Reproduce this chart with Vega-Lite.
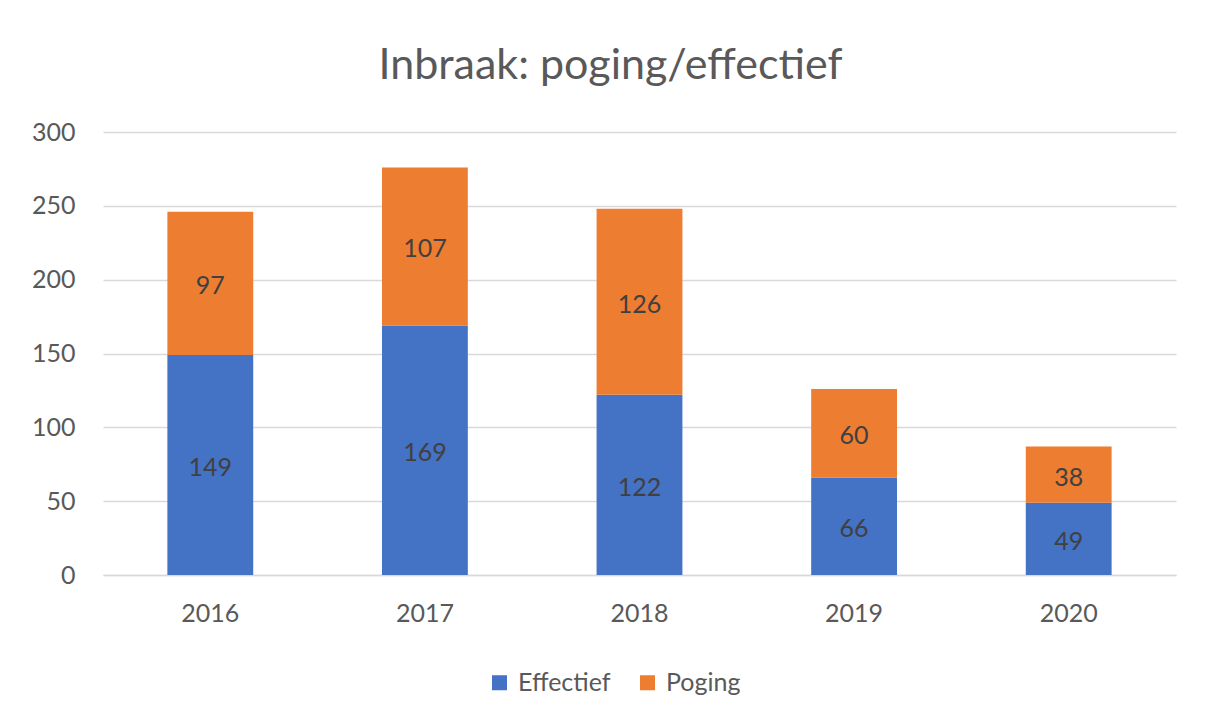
{
  "$schema": "https://vega.github.io/schema/vega-lite/v6.json",
  "width": 1073,
  "height": 443,
  "autosize": {"type": "none"},
  "padding": {"left": 103, "top": 132, "right": 32, "bottom": 149},
  "background": "white",
  "config": {"view": {"stroke": null}},
  "title": {
    "text": "Inbraak: poging/effectief",
    "anchor": "middle",
    "fontSize": 43,
    "font": "Lato",
    "fontWeight": "normal",
    "color": "#595959",
    "offset": 32,
    "dx": -29
  },
  "data": {
    "values": [
      {"year": "2016", "series": "Effectief", "value": 149},
      {"year": "2016", "series": "Poging", "value": 97},
      {"year": "2017", "series": "Effectief", "value": 169},
      {"year": "2017", "series": "Poging", "value": 107},
      {"year": "2018", "series": "Effectief", "value": 122},
      {"year": "2018", "series": "Poging", "value": 126},
      {"year": "2019", "series": "Effectief", "value": 66},
      {"year": "2019", "series": "Poging", "value": 60},
      {"year": "2020", "series": "Effectief", "value": 49},
      {"year": "2020", "series": "Poging", "value": 38}
    ]
  },
  "transform": [
    {"stack": "value", "groupby": ["year"], "sort": [{"field": "series", "order": "ascending"}], "as": ["v0", "v1"]},
    {"calculate": "(datum.v0 + datum.v1) / 2", "as": "mid"}
  ],
  "encoding": {
    "x": {
      "field": "year",
      "type": "ordinal",
      "title": null,
      "scale": {"paddingInner": 0.6, "paddingOuter": 0.3},
      "axis": {
        "labelAngle": 0,
        "labelFontSize": 25,
        "labelFont": "Lato",
        "labelColor": "#595959",
        "labelPadding": 26,
        "ticks": false,
        "domain": true,
        "domainColor": "#D9D9D9",
        "domainWidth": 1.5,
        "grid": false
      }
    }
  },
  "layer": [
    {
      "mark": {"type": "bar"},
      "encoding": {
        "y": {
          "field": "v0",
          "type": "quantitative",
          "title": null,
          "scale": {"domain": [0, 300]},
          "axis": {
            "values": [0, 50, 100, 150, 200, 250, 300],
            "labelFontSize": 25,
            "labelFont": "Lato",
            "labelColor": "#595959",
            "labelPadding": 28,
            "ticks": false,
            "domain": false,
            "gridColor": "#D9D9D9",
            "gridWidth": 1.5
          }
        },
        "y2": {"field": "v1"},
        "color": {
          "field": "series",
          "type": "nominal",
          "scale": {"domain": ["Effectief", "Poging"], "range": ["#4472C4", "#ED7D31"]},
          "legend": {
            "title": null,
            "orient": "none",
            "legendX": 384,
            "legendY": 538,
            "direction": "horizontal",
            "symbolType": "square",
            "symbolSize": 225,
            "symbolStrokeWidth": 0,
            "labelFontSize": 25,
            "labelFont": "Lato",
            "labelColor": "#595959",
            "labelOffset": 6,
            "columnPadding": 24
          }
        }
      }
    },
    {
      "mark": {"type": "text", "fontSize": 25, "font": "Lato", "color": "#404040", "baseline": "middle", "dy": 3},
      "encoding": {
        "y": {"field": "mid", "type": "quantitative"},
        "text": {"field": "value", "type": "quantitative"}
      }
    }
  ]
}
